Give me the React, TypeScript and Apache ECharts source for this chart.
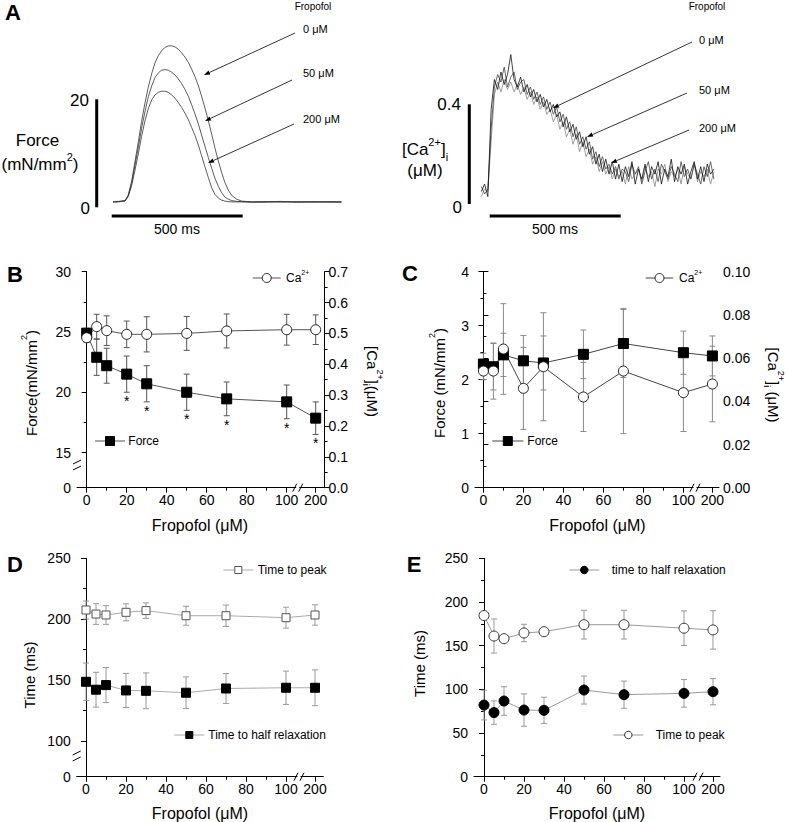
import React, { useEffect, useRef } from "react";
import * as echarts from "echarts";

const FONT = '"Liberation Sans", Arial, Helvetica, sans-serif';

// ---------- Panel A: force traces (time ms, force mN/mm2) ----------
const FORCE_TIME = [0, 20, 46, 58.5, 71, 84, 97, 109, 122, 135, 148, 160, 173, 186, 198, 211, 224, 237, 249, 262, 275, 288, 300, 313, 326, 338, 351, 364, 377, 389, 402, 415, 427, 440, 453, 472, 491, 529, 580, 640, 700, 760, 820, 872];
const FORCE_0 = [1.0, 1.1, 1.2, 2.3, 4.8, 8.5, 12.2, 15.9, 19.3, 22.3, 24.8, 26.7, 28.1, 29.0, 29.6, 29.9, 29.9, 29.7, 29.3, 28.6, 27.8, 26.8, 25.6, 24.2, 22.5, 20.6, 18.4, 16.0, 13.5, 11.0, 8.6, 6.4, 4.6, 3.2, 2.2, 1.5, 1.15, 1.0, 0.95, 1.1, 0.95, 1.05, 0.95, 1.0];
const FORCE_50 = [1.0, 1.05, 1.2, 2.2, 4.4, 7.8, 11.2, 14.6, 17.7, 20.5, 22.5, 24.0, 24.9, 25.4, 25.5, 25.4, 25.0, 24.5, 23.8, 22.9, 21.8, 20.5, 19.0, 17.3, 15.4, 13.4, 11.3, 9.2, 7.2, 5.4, 3.9, 2.7, 1.9, 1.5, 1.25, 1.1, 1.05, 1.0, 1.05, 0.95, 1.05, 0.95, 1.05, 1.0];
const FORCE_200 = [1.0, 1.0, 1.2, 2.0, 4.0, 6.9, 10.0, 13.1, 16.0, 18.3, 19.9, 20.8, 21.3, 21.5, 21.5, 21.3, 20.8, 20.2, 19.4, 18.5, 17.4, 16.2, 14.8, 13.3, 11.5, 9.6, 7.5, 5.5, 3.6, 2.4, 1.7, 1.3, 1.15, 1.05, 1.0, 1.0, 1.0, 0.95, 1.0, 1.05, 0.95, 1.0, 1.0, 0.95];

// ---------- Panel A: [Ca2+]i traces (time ms, uM) ----------
const CA_TIME = [0, 12.5, 25, 37.5, 50, 62.5, 75, 87.5, 100, 112.5, 125, 137.5, 150, 162.5, 175, 187.5, 200, 212.5, 225, 237.5, 250, 262.5, 275, 287.5, 300, 312.5, 325, 337.5, 350, 362.5, 375, 387.5, 400, 412.5, 425, 437.5, 450, 462.5, 475, 487.5, 500, 512.5, 525, 537.5, 550, 562.5, 575, 587.5, 600, 612.5, 625, 637.5, 650, 662.5, 675, 687.5, 700, 712.5, 725, 737.5, 750, 762.5, 775, 787.5, 800, 812.5, 825, 837.5, 850, 862.5, 875, 887.5];
const CA_0 = [0.05, 0.08, 0.03, 0.38, 0.50, 0.46, 0.53, 0.48, 0.52, 0.60, 0.50, 0.47, 0.51, 0.45, 0.48, 0.43, 0.46, 0.41, 0.44, 0.39, 0.42, 0.37, 0.40, 0.35, 0.37, 0.31, 0.35, 0.29, 0.32, 0.26, 0.29, 0.23, 0.27, 0.20, 0.23, 0.16, 0.20, 0.13, 0.18, 0.12, 0.17, 0.10, 0.16, 0.09, 0.15, 0.11, 0.17, 0.08, 0.14, 0.10, 0.16, 0.09, 0.15, 0.12, 0.17, 0.08, 0.14, 0.11, 0.18, 0.09, 0.15, 0.12, 0.16, 0.08, 0.13, 0.17, 0.10, 0.15, 0.09, 0.16, 0.12, 0.14];
const CA_50 = [0.07, 0.04, 0.06, 0.30, 0.47, 0.52, 0.49, 0.55, 0.47, 0.51, 0.53, 0.46, 0.49, 0.50, 0.44, 0.47, 0.42, 0.45, 0.40, 0.43, 0.38, 0.41, 0.36, 0.39, 0.33, 0.36, 0.30, 0.33, 0.27, 0.31, 0.24, 0.27, 0.22, 0.25, 0.18, 0.21, 0.15, 0.19, 0.14, 0.16, 0.12, 0.15, 0.10, 0.14, 0.13, 0.09, 0.16, 0.12, 0.15, 0.08, 0.13, 0.17, 0.10, 0.14, 0.09, 0.16, 0.13, 0.10, 0.15, 0.12, 0.09, 0.17, 0.11, 0.14, 0.10, 0.16, 0.12, 0.08, 0.15, 0.11, 0.17, 0.10];
const CA_200 = [0.03, 0.06, 0.05, 0.25, 0.44, 0.49, 0.45, 0.50, 0.46, 0.49, 0.45, 0.48, 0.44, 0.47, 0.42, 0.45, 0.40, 0.43, 0.38, 0.41, 0.36, 0.38, 0.33, 0.36, 0.30, 0.33, 0.27, 0.30, 0.24, 0.28, 0.21, 0.25, 0.19, 0.22, 0.16, 0.19, 0.13, 0.17, 0.12, 0.15, 0.10, 0.14, 0.11, 0.13, 0.08, 0.15, 0.10, 0.12, 0.14, 0.09, 0.15, 0.11, 0.13, 0.07, 0.14, 0.12, 0.16, 0.09, 0.13, 0.11, 0.14, 0.08, 0.15, 0.12, 0.10, 0.16, 0.09, 0.13, 0.11, 0.14, 0.08, 0.13];

// ---------- Panels B-E: concentrations ----------
const CONC = [0, 5, 10, 20, 30, 50, 70, 100, 200];
const X_TICKS = [0, 20, 40, 60, 80, 100, 200];
const X_MINOR = [10, 30, 50, 70, 90];

// Panel B
const B_FORCE = [24.9, 22.9, 22.2, 21.5, 20.7, 20.0, 19.45, 19.2, 17.85];
const B_FORCE_ERR = [0.4, 1.5, 1.45, 1.5, 1.5, 1.5, 1.4, 1.4, 1.35];
const B_CA = [0.486, 0.522, 0.509, 0.497, 0.497, 0.5, 0.508, 0.512, 0.512];
const B_CA_ERR = [0.015, 0.04, 0.048, 0.043, 0.057, 0.055, 0.055, 0.05, 0.048];
const B_SIGNIFICANT = [20, 30, 50, 70, 100, 200];
const B_Y_TICKS = [0, 15, 20, 25, 30];
const B_Y_MINOR = [17.5, 22.5, 27.5];

// Panel C
const C_FORCE = [2.29, 2.24, 2.46, 2.35, 2.31, 2.47, 2.67, 2.5, 2.44];
const C_FORCE_ERR = [0.2, 0.43, 0.4, 0.47, 0.5, 0.45, 0.63, 0.4, 0.37];
const C_CA = [0.054, 0.054, 0.0642, 0.046, 0.056, 0.042, 0.054, 0.044, 0.048];
const C_CA_ERR = [0.004, 0.013, 0.021, 0.019, 0.025, 0.016, 0.029, 0.018, 0.0175];

// Panel D
const D_PEAK = [207.5, 204.2, 203.4, 205.6, 207.0, 202.8, 202.8, 201.2, 203.4];
const D_PEAK_ERR = [7.4, 8.5, 7.7, 7.0, 6.4, 7.8, 8.8, 8.6, 8.4];
const D_HALF = [148.5, 142.0, 145.8, 141.4, 141.1, 139.5, 143.0, 143.6, 143.6];
const D_HALF_ERR = [15.4, 14.3, 14.4, 14.0, 14.7, 13.0, 12.3, 13.7, 14.7];
const D_Y_TICKS = [0, 100, 150, 200, 250];
const D_Y_MINOR = [125, 175, 225];

// Panel E
const E_PEAK = [184.5, 161, 158, 164.5, 166, 174, 174, 170, 168];
const E_PEAK_ERR = [3, 19.5, 2, 10, 3, 16.4, 16.4, 19.8, 22];
const E_HALF = [82, 73.4, 86.6, 76.3, 76, 99.2, 93.9, 95.4, 97.3];
const E_HALF_ERR = [17, 13.4, 16.4, 18.5, 15, 16, 15.5, 15.8, 15];

// ---------- axis breaks ----------
const X_BREAK_POS = 114.5; // axis position of 200 after the 100//200 break
const xPos = (c: number) => (c > 100 ? X_BREAK_POS : c);
const B_ZERO_POS = 12.08; // position of 0 below the break on B's force axis
const yB = (v: number) => (v < 15 ? B_ZERO_POS : v);
const D_ZERO_POS = 70.5;
const yD = (v: number) => (v < 100 ? D_ZERO_POS : v);

const BLACK = "#000";

function mainX(grid: number, min: number, max: number) {
  const vals = X_TICKS.map(xPos);
  return {
    type: "value", gridIndex: grid, min, max, position: "bottom",
    axisLine: { show: true, lineStyle: { color: BLACK, width: 1 } },
    axisTick: { show: true, length: 5, customValues: vals, lineStyle: { color: BLACK } },
    axisLabel: {
      show: true, customValues: vals, color: BLACK, fontSize: 14, fontFamily: FONT, margin: 5,
      formatter: (v: number) => {
        const t = X_TICKS.find((t) => Math.abs(xPos(t) - v) < 0.01);
        return t === undefined ? "" : String(t);
      },
    },
    splitLine: { show: false },
  };
}
function minorX(grid: number, min: number, max: number) {
  return {
    type: "value", gridIndex: grid, min, max, position: "bottom",
    axisLine: { show: false },
    axisTick: { show: true, length: 3, customValues: X_MINOR, lineStyle: { color: BLACK } },
    axisLabel: { show: false },
    splitLine: { show: false },
  };
}
function yCustom(grid: number, min: number, max: number, ticks: number[], map: (v: number) => number) {
  const vals = ticks.map(map);
  return {
    type: "value", gridIndex: grid, min, max, position: "left",
    axisLine: { show: true, lineStyle: { color: BLACK, width: 1 } },
    axisTick: { show: true, length: 5, customValues: vals, lineStyle: { color: BLACK } },
    axisLabel: {
      show: true, customValues: vals, color: BLACK, fontSize: 14, fontFamily: FONT, margin: 6,
      formatter: (v: number) => {
        const t = ticks.find((t) => Math.abs(map(t) - v) < 0.01);
        return t === undefined ? "" : String(t);
      },
    },
    splitLine: { show: false },
  };
}
function yMinor(grid: number, min: number, max: number, vals: number[]) {
  return {
    type: "value", gridIndex: grid, min, max, position: "left",
    axisLine: { show: false },
    axisTick: { show: true, length: 3, customValues: vals, lineStyle: { color: BLACK } },
    axisLabel: { show: false },
    splitLine: { show: false },
  };
}
function yRegular(grid: number, pos: string, min: number, max: number, interval: number, digits: number) {
  return {
    type: "value", gridIndex: grid, min, max, interval, position: pos,
    axisLine: { show: true, lineStyle: { color: BLACK, width: 1 } },
    axisTick: { show: true, length: 5, lineStyle: { color: BLACK } },
    minorTick: { show: true, splitNumber: 2, length: 3, lineStyle: { color: BLACK } },
    axisLabel: {
      show: true, color: BLACK, fontSize: 14, fontFamily: FONT, margin: pos === "right" ? 4 : 6,
      formatter: (v: number) => v.toFixed(digits),
    },
    splitLine: { show: false },
    minorSplitLine: { show: false },
  };
}

function trace(name: string, xi: number, t: number[], v: number[], color: string, width: number) {
  return {
    type: "line", name, xAxisIndex: xi, yAxisIndex: xi, silent: true,
    data: t.map((x, i) => [x, v[i]]), symbol: "none",
    itemStyle: { color },
    lineStyle: { color, width }, z: 3,
  };
}

function markers(name: string, xi: number, yi: number, vals: number[], map: (v: number) => number, o: any) {
  return {
    type: "line", name, xAxisIndex: xi, yAxisIndex: yi, silent: true,
    data: CONC.map((c, i) => [xPos(c), map(vals[i])]),
    symbol: o.symbol, symbolSize: o.size, showSymbol: true,
    itemStyle: { color: o.fill, borderColor: o.border, borderWidth: 1, opacity: 1 },
    lineStyle: { color: o.line, width: 1 }, z: 3,
  };
}

function errorBars(xi: number, yi: number, vals: number[], errs: number[], map: (v: number) => number, color: string) {
  return {
    type: "custom", xAxisIndex: xi, yAxisIndex: yi, silent: true, z: 2,
    itemStyle: { color },
    data: CONC.map((c, i) => [xPos(c), map(vals[i] - errs[i]), map(vals[i] + errs[i])]),
    encode: { x: 0, y: [1, 2] },
    renderItem: (_p: any, api: any) => {
      const lo = api.coord([api.value(0), api.value(1)]);
      const hi = api.coord([api.value(0), api.value(2)]);
      const w = 3;
      const style = { stroke: color, lineWidth: 1, fill: "none" };
      return {
        type: "group",
        children: [
          { type: "line", shape: { x1: lo[0], y1: lo[1], x2: hi[0], y2: hi[1] }, style },
          { type: "line", shape: { x1: hi[0] - w, y1: hi[1], x2: hi[0] + w, y2: hi[1] }, style },
          { type: "line", shape: { x1: lo[0] - w, y1: lo[1], x2: lo[0] + w, y2: lo[1] }, style },
        ],
      };
    },
  };
}

// ---------- graphic helpers ----------
function rich(size: number) {
  const L = Math.round(size * 1.5);
  const raise = Math.round(size * 0.33);
  const h = L - 2 * raise;
  const small = Math.round(size * 0.62);
  return {
    b: { fontSize: size, fontFamily: FONT, fill: BLACK, color: BLACK, lineHeight: L },
    s: { fontSize: small, fontFamily: FONT, fill: BLACK, color: BLACK, lineHeight: h, verticalAlign: "top" },
    i: { fontSize: small, fontFamily: FONT, fill: BLACK, color: BLACK, lineHeight: h, verticalAlign: "bottom" },
  };
}
function T(x: number, y: number, text: string, o: any = {}) {
  const size = o.size || 14;
  return {
    type: "text", x, y, z: 50, silent: true, rotation: o.rotation || 0,
    style: {
      text, fill: BLACK, fontFamily: FONT, fontSize: size, fontWeight: o.weight || "normal",
      align: o.align || "center", verticalAlign: "middle",
      rich: o.rich ? rich(size) : undefined,
    },
  };
}
function L(x1: number, y1: number, x2: number, y2: number, color = BLACK, w = 1) {
  return { type: "line", z: 50, silent: true, shape: { x1, y1, x2, y2 }, style: { stroke: color, lineWidth: w } };
}
function arrow(x1: number, y1: number, x2: number, y2: number) {
  const dx = x2 - x1, dy = y2 - y1;
  const len = Math.hypot(dx, dy);
  const ux = dx / len, uy = dy / len;
  const hl = 6, hw = 2.2;
  const bx = x2 - ux * hl, by = y2 - uy * hl;
  return [
    L(x1, y1, bx, by, BLACK, 0.8),
    {
      type: "polygon", z: 50, silent: true,
      shape: { points: [[x2, y2], [bx - uy * hw, by + ux * hw], [bx + uy * hw, by - ux * hw]] },
      style: { fill: BLACK },
    },
  ];
}
function xBreak(cx: number, y: number) {
  return [
    { type: "rect", z: 49, silent: true, shape: { x: cx - 1.5, y: y - 2, width: 3, height: 4 }, style: { fill: "#fff" } },
    L(cx - 5, y + 4, cx - 1, y - 4),
    L(cx + 1, y + 4, cx + 5, y - 4),
  ];
}
function yBreak(x: number, cy: number) {
  return [
    { type: "rect", z: 49, silent: true, shape: { x: x - 2, y: cy - 2, width: 4, height: 4 }, style: { fill: "#fff" } },
    L(x - 4, cy - 1, x + 4, cy - 5),
    L(x - 4, cy + 5, x + 4, cy + 1),
  ];
}
function legendItem(x1: number, x2: number, y: number, shape: string, filled: boolean, sz: number, lineColor: string, border: string, textX: number, text: string, isRich = false) {
  const cx = (x1 + x2) / 2;
  const fill = filled ? BLACK : "#fff";
  const sym =
    shape === "circle"
      ? { type: "circle", z: 51, silent: true, shape: { cx, cy: y, r: sz / 2 }, style: { fill, stroke: border, lineWidth: 1 } }
      : { type: "rect", z: 51, silent: true, shape: { x: cx - sz / 2, y: y - sz / 2, width: sz, height: sz }, style: { fill, stroke: border, lineWidth: 1 } };
  return [L(x1, y, x2, y, lineColor, 1), sym, T(textX, y, text, { size: 12, align: "left", rich: isRich })];
}

function buildOption() {
  const grids = [
    { left: 113, top: 34.5, width: 230, height: 172.8 },
    { left: 481.3, top: 29.7, width: 240, height: 174.3 },
    { left: 77, top: 271.7, width: 247.6, height: 216 },
    { left: 475, top: 271.7, width: 244, height: 216 },
    { left: 76.7, top: 558.3, width: 246.6, height: 218.4 },
    { left: 474, top: 558.3, width: 246, height: 218.4 },
  ].map((g) => ({ ...g, show: false, containLabel: false, outerBoundsMode: "none" }));

  const xAxis = [
    { type: "value", gridIndex: 0, min: 0, max: 878, show: false },
    { type: "value", gridIndex: 1, min: 0, max: 916, show: false },
    mainX(2, -4.85, 118.95), minorX(2, -4.85, 118.95),
    mainX(3, -4.2, 117.8), minorX(3, -4.2, 117.8),
    mainX(4, -4.65, 118.65), minorX(4, -4.65, 118.65),
    mainX(5, -5, 118), minorX(5, -5, 118),
  ];
  const yAxis = [
    { type: "value", gridIndex: 0, min: 0, max: 32, show: false },
    { type: "value", gridIndex: 1, min: 0, max: 0.7, show: false },
    yCustom(2, B_ZERO_POS, 30, B_Y_TICKS, yB), // 2
    yMinor(2, B_ZERO_POS, 30, B_Y_MINOR), // 3
    yRegular(2, "right", 0, 0.7, 0.1, 1), // 4
    yRegular(3, "left", 0, 4, 1, 0), // 5
    yRegular(3, "right", 0, 0.1, 0.02, 2), // 6
    yCustom(4, D_ZERO_POS, 250, D_Y_TICKS, yD), // 7
    yMinor(4, D_ZERO_POS, 250, D_Y_MINOR), // 8
    yRegular(5, "left", 0, 250, 50, 0), // 9
  ];

  const id = (v: number) => v;
  const series: any[] = [
    trace("Force 0 μM", 0, FORCE_TIME, FORCE_0, "#333", 0.8),
    trace("Force 50 μM", 0, FORCE_TIME, FORCE_50, "#333", 0.8),
    trace("Force 200 μM", 0, FORCE_TIME, FORCE_200, "#333", 0.8),
    trace("Ca 200 μM", 1, CA_TIME, CA_200, "#888", 0.8),
    trace("Ca 50 μM", 1, CA_TIME, CA_50, "#444", 0.8),
    trace("Ca 0 μM", 1, CA_TIME, CA_0, "#111", 0.8),

    // B
    errorBars(2, 2, B_FORCE, B_FORCE_ERR, yB, "#555"),
    errorBars(2, 4, B_CA, B_CA_ERR, id, "#555"),
    markers("Force", 2, 2, B_FORCE, yB, { symbol: "rect", size: 10, fill: BLACK, border: BLACK, line: "#555" }),
    markers("Ca2+", 2, 4, B_CA, id, { symbol: "circle", size: 10, fill: "#fff", border: "#222", line: "#555" }),
    {
      type: "custom", name: "significance", xAxisIndex: 2, yAxisIndex: 2, silent: true, z: 4,
      itemStyle: { color: BLACK },
      data: B_SIGNIFICANT.map((c) => {
        const i = CONC.indexOf(c);
        return [xPos(c), yB(B_FORCE[i] - B_FORCE_ERR[i])];
      }),
      encode: { x: 0, y: 1 },
      renderItem: (_p: any, api: any) => {
        const pt = api.coord([api.value(0), api.value(1)]);
        return {
          type: "text", x: pt[0], y: pt[1] + 2,
          style: { text: "*", fill: BLACK, fontFamily: FONT, fontSize: 14, align: "center", verticalAlign: "top" },
        };
      },
    },

    // C
    errorBars(4, 5, C_FORCE, C_FORCE_ERR, id, "#8a8a8a"),
    errorBars(4, 6, C_CA, C_CA_ERR, id, "#8a8a8a"),
    markers("Force C", 4, 5, C_FORCE, id, { symbol: "rect", size: 10, fill: BLACK, border: BLACK, line: "#444" }),
    markers("Ca2+ C", 4, 6, C_CA, id, { symbol: "circle", size: 10, fill: "#fff", border: "#222", line: "#444" }),

    // D
    errorBars(6, 7, D_PEAK, D_PEAK_ERR, yD, "#999"),
    errorBars(6, 7, D_HALF, D_HALF_ERR, yD, "#999"),
    markers("Time to peak", 6, 7, D_PEAK, yD, { symbol: "rect", size: 8, fill: "#fff", border: "#555", line: "#aaa" }),
    markers("Time to half relaxation", 6, 7, D_HALF, yD, { symbol: "rect", size: 9, fill: BLACK, border: BLACK, line: "#aaa" }),

    // E
    errorBars(8, 9, E_PEAK, E_PEAK_ERR, id, "#999"),
    errorBars(8, 9, E_HALF, E_HALF_ERR, id, "#999"),
    markers("time to half relaxation", 8, 9, E_HALF, id, { symbol: "circle", size: 10, fill: BLACK, border: BLACK, line: "#999" }),
    markers("Time to peak E", 8, 9, E_PEAK, id, { symbol: "circle", size: 10, fill: "#fff", border: "#333", line: "#999" }),
  ];

  const elements: any[] = [
    // panel letters
    T(13, 12.5, "A", { size: 22, weight: "bold" }),
    T(15, 274.5, "B", { size: 22, weight: "bold" }),
    T(410, 273.5, "C", { size: 22, weight: "bold" }),
    T(15, 564.5, "D", { size: 22, weight: "bold" }),
    T(414, 564.5, "E", { size: 22, weight: "bold" }),

    // A left
    T(313, 6, "Fropofol", { size: 10 }),
    T(303, 29, "0 μM", { size: 11, align: "left" }),
    T(303, 73, "50 μM", { size: 11, align: "left" }),
    T(303, 119, "200 μM", { size: 11, align: "left" }),
    ...arrow(295, 33, 204, 75),
    ...arrow(292, 80, 205, 121),
    ...arrow(294, 124, 208, 163),
    L(96.7, 99.3, 96.7, 207.3, BLACK, 3),
    L(111.7, 216, 242.7, 216, BLACK, 3),
    T(89, 100, "20", { size: 17, align: "right" }),
    T(90, 208, "0", { size: 17, align: "right" }),
    T(37.5, 140, "Force", { size: 17 }),
    T(40, 164, "{b|(mN/mm}{s|2}{b|)}", { size: 17, rich: true }),
    T(177, 229, "500 ms", { size: 14 }),

    // A right
    T(707, 6, "Fropofol", { size: 10 }),
    T(699, 40, "0 μM", { size: 11, align: "left" }),
    T(699, 90, "50 μM", { size: 11, align: "left" }),
    T(699, 128, "200 μM", { size: 11, align: "left" }),
    ...arrow(692, 42, 553, 108),
    ...arrow(687, 93, 587, 137),
    ...arrow(689, 130, 611, 163),
    L(469.3, 104.3, 469.3, 204, BLACK, 3),
    L(489.7, 216, 620.7, 216, BLACK, 3),
    T(461, 104, "0.4", { size: 17, align: "right" }),
    T(462, 207, "0", { size: 17, align: "right" }),
    T(425, 149, "{b|[Ca}{s|2+}{b|]}{i|i}", { size: 17, rich: true }),
    T(425, 170, "(μM)", { size: 17 }),
    T(555, 229, "500 ms", { size: 14 }),

    // B
    T(31, 383, "{b|Force(mN/mm}{s|2}{b|)}", { size: 15, rich: true, rotation: Math.PI / 2 }),
    T(372.5, 381.5, "{b|[Ca}{s|2+}{b|]}{i|i}{b|(μM)}", { size: 15, rich: true, rotation: -Math.PI / 2 }),
    T(200, 525, "Fropofol (μM)", { size: 16 }),
    ...legendItem(252.7, 280.7, 278, "circle", false, 9, "#555", "#222", 286, "{b|Ca}{s|2+}", true),
    ...legendItem(95, 125, 441, "rect", true, 9, "#555", BLACK, 128.3, "Force"),
    ...xBreak(297.7, 487.7),
    ...yBreak(77, 465),

    // C
    T(439, 383, "{b|Force (mN/mm}{s|2}{b|)}", { size: 15, rich: true, rotation: Math.PI / 2 }),
    T(773.5, 385, "{b|[Ca}{s|2+}{b|]}{i|i}{b| (μM)}", { size: 15, rich: true, rotation: -Math.PI / 2 }),
    T(597.5, 525, "Fropofol (μM)", { size: 16 }),
    ...legendItem(645.7, 673.3, 278, "circle", false, 9, "#444", "#222", 679, "{b|Ca}{s|2+}", true),
    ...legendItem(492.3, 523.3, 441, "rect", true, 9, "#444", BLACK, 527.3, "Force"),
    ...xBreak(695, 487.7),

    // D
    T(29.5, 675, "Time (ms)", { size: 15, rotation: Math.PI / 2 }),
    T(200, 813, "Fropofol (μM)", { size: 16 }),
    ...legendItem(223.3, 253.3, 570, "rect", false, 7, "#aaa", "#555", 257.7, "Time to peak"),
    ...legendItem(174.3, 204.3, 735, "rect", true, 7, "#aaa", BLACK, 208.3, "Time to half relaxation"),
    ...xBreak(299, 776.7),
    ...yBreak(76.7, 756),

    // E
    T(419, 663.5, "Time (ms)", { size: 15, rotation: Math.PI / 2 }),
    T(597, 813, "Fropofol (μM)", { size: 16 }),
    ...legendItem(569.3, 599.3, 570, "circle", true, 7.5, "#999", BLACK, 611.7, "time to half relaxation"),
    ...legendItem(613.3, 643.3, 735, "circle", false, 7.5, "#999", "#333", 655.7, "Time to peak"),
    ...xBreak(698, 776.7),
  ];

  return {
    animation: false,
    backgroundColor: "#fff",
    color: [BLACK],
    textStyle: { fontFamily: FONT },
    grid: grids,
    xAxis,
    yAxis,
    series,
    graphic: { elements },
  };
}

export default function App() {
  const ref = useRef<HTMLDivElement>(null);
  useEffect(() => {
    if (!ref.current) return;
    const chart = echarts.init(ref.current, undefined, { renderer: "svg" });
    chart.setOption(buildOption() as any);
    return () => chart.dispose();
  }, []);
  return (
    <div
      ref={ref}
      style={{ position: "absolute", left: 0, top: 0, width: 788, height: 822, background: "#fff" }}
    />
  );
}
